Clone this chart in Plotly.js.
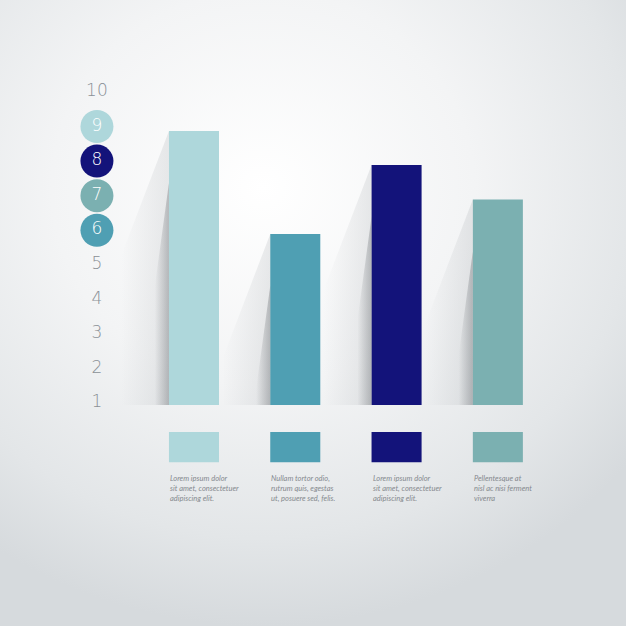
<!DOCTYPE html>
<html>
<head>
<meta charset="utf-8">
<script src="https://cdn.plot.ly/plotly-3.0.1.min.js"></script>
<style>
  html, body { margin: 0; padding: 0; }
  body {
    width: 626px; height: 626px; overflow: hidden;
    background: radial-gradient(ellipse 75% 70% at 42% 30%, #ffffff 0%, #f3f4f5 45%, #e3e6e8 80%, #d6dadd 100%);
  }
  #chart { width: 626px; height: 626px; }
</style>
</head>
<body>
<div id="chart"></div>
<script>
// bar tops and the level where the bars start
var categories = [0, 1, 2, 3];
var values = [8.87, 5.89, 7.89, 6.89];
var baseValue = 0.94;
var barColors = ['#aed7db', '#4f9fb3', '#13137a', '#7bb0b1'];

var captions = [
    'Lorem ipsum dolor<br>sit amet, consectetuer<br>adipiscing elit.',
    'Nullam tortor odio,<br>rutrum quis, egestas<br>ut, posuere sed, felis.',
    'Lorem ipsum dolor<br>sit amet, consectetuer<br>adipiscing elit.',
    'Pellentesque at<br>nisl ac nisi ferment<br>viverra'
];

// y scale labels, 6 to 9 sit in coloured circles
var tickValues = [1, 2, 3, 4, 5, 6, 7, 8, 9, 10];
var tickLabels = ['1', '2', '3', '4', '5', '6', '7', '8', '9', '10'];
var tickCircle = ['', '', '', '', '', '#4f9fb3', '#7bb0b1', '#13137a', '#aed7db', ''];

var barWidth = 0.494;
var labelX = -0.958;

var traces = [];

// soft diagonal shadows on the left of each bar
categories.forEach(function (c, i) {
    var left = c - barWidth / 2;
    var top = values[i];
    traces.push({
        x: [left, left - 0.47, left - 0.47, left, left],
        y: [top, top - 3.6, baseValue, baseValue, top],
        type: 'scatter', mode: 'lines', fill: 'toself',
        line: {width: 0},
        fillgradient: {type: 'horizontal', colorscale: [[0, 'rgba(150,155,160,0)'], [1, 'rgba(150,155,160,0.2)']]},
        hoverinfo: 'skip', showlegend: false
    });
    traces.push({
        x: [left, left - 0.14, left - 0.14, left, left],
        y: [top - 1.5, top - 4.5, baseValue, baseValue, top - 1.5],
        type: 'scatter', mode: 'lines', fill: 'toself',
        line: {width: 0},
        fillgradient: {type: 'horizontal', colorscale: [[0, 'rgba(90,95,100,0)'], [1, 'rgba(90,95,100,0.35)']]},
        hoverinfo: 'skip', showlegend: false
    });
});

traces.push({
    x: categories,
    y: values.map(function (v) { return v - baseValue; }),
    base: baseValue,
    type: 'bar',
    width: barWidth,
    marker: {color: barColors, line: {width: 0}},
    hoverinfo: 'skip', showlegend: false
});

traces.push({
    x: tickValues.map(function () { return labelX; }),
    y: tickValues,
    text: tickLabels,
    type: 'scatter', mode: 'markers+text',
    textposition: 'middle center',
    marker: {
        size: tickCircle.map(function (c) { return c ? 33 : 0; }),
        color: tickCircle.map(function (c) { return c || 'rgba(0,0,0,0)'; }),
        opacity: 1,
        line: {width: 0}
    },
    textfont: {
        family: '"DejaVu Sans", sans-serif', size: 17, weight: 200,
        color: tickCircle.map(function (c) { return c ? '#ffffff' : '#8a9096'; })
    },
    hoverinfo: 'skip', showlegend: false
});

var shapes = categories.map(function (c, i) {
    return {
        type: 'rect', xref: 'x', yref: 'y',
        x0: c - barWidth / 2, x1: c + barWidth / 2,
        y0: 0.16, y1: -0.71,
        fillcolor: barColors[i], line: {width: 0}
    };
});

var annotations = categories.map(function (c, i) {
    return {
        x: c - barWidth / 2 - 0.01, y: -1.0, xref: 'x', yref: 'y',
        xanchor: 'left', yanchor: 'top', align: 'left',
        text: '<i>' + captions[i] + '</i>', showarrow: false,
        font: {family: 'Lato, sans-serif', size: 7.5, color: '#85898e'}
    };
});

var layout = {
    width: 626, height: 626,
    margin: {l: 0, r: 0, t: 0, b: 0},
    paper_bgcolor: 'rgba(0,0,0,0)',
    plot_bgcolor: 'rgba(0,0,0,0)',
    xaxis: {range: [-1.915, 4.265], visible: false, fixedrange: true},
    yaxis: {range: [-5.45, 12.66], visible: false, fixedrange: true},
    shapes: shapes,
    annotations: annotations,
    showlegend: false
};

Plotly.newPlot('chart', traces, layout, {displayModeBar: false, staticPlot: true});
</script>
</body>
</html>
